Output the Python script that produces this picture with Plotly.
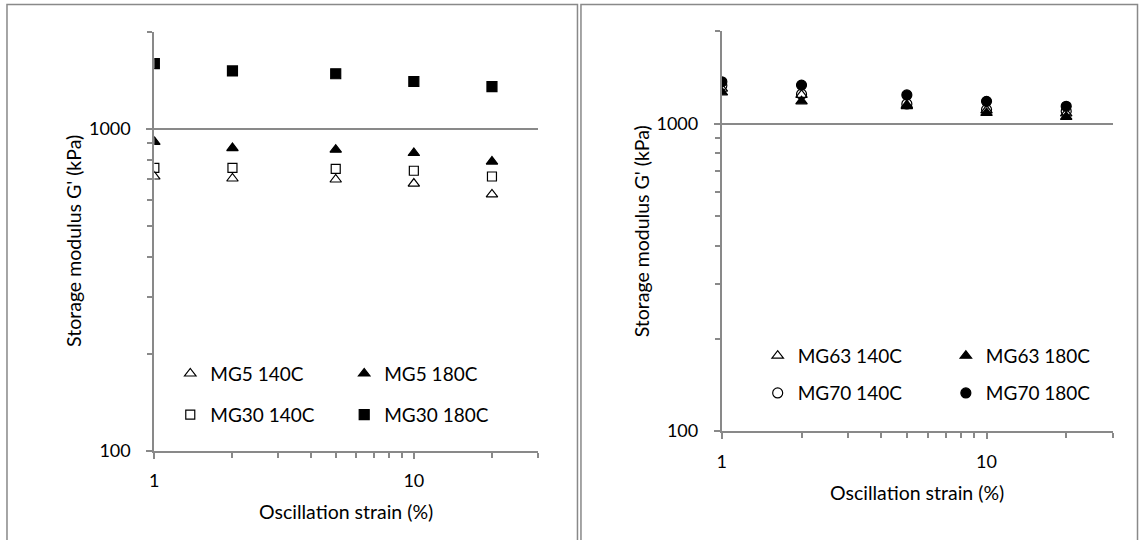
import plotly.graph_objects as go

# Oscillation strain (%) shared by every series
strain = [1, 2, 5, 10, 20]

# Left panel: storage modulus G' (kPa)
mg5_140c = [710, 700, 695, 675, 625]
mg5_180c = [910, 870, 860, 840, 790]
mg30_140c = [755, 755, 750, 740, 710]
mg30_180c = [1590, 1510, 1480, 1400, 1350]

# Right panel: storage modulus G' (kPa)
mg63_140c = [1300, 1240, 1150, 1105, 1080]
mg63_180c = [1265, 1182, 1141, 1084, 1053]
mg70_140c = [1332, 1247, 1159, 1111, 1098]
mg70_180c = [1369, 1335, 1240, 1182, 1139]

# Tick positions on the log axes
x_major = [1, 10]
x_major_text = ["1", "10"]
x_minor = [2, 3, 4, 5, 6, 7, 8, 9, 20, 30]
y_major = [100, 1000]
y_major_text = ["100", "1000"]
y_minor = [200, 300, 400, 500, 600, 700, 800, 900, 2000]

X_TITLE = "Oscillation strain (%)"
Y_TITLE = "Storage modulus G' (kPa)"

W, H = 1140, 540
FONT = "Lato"
GRAY = "#898989"
BLACK = "#000000"


def px_x(p):
    return p / W


def px_y(p):
    return 1 - p / H


fig = go.Figure()

left_series = [
    ("MG5 140C", mg5_140c, "triangle-up-open", 10),
    ("MG5 180C", mg5_180c, "triangle-up", 10),
    ("MG30 140C", mg30_140c, "square-open", 9),
    ("MG30 180C", mg30_180c, "square", 10),
]
right_series = [
    ("MG63 140C", mg63_140c, "triangle-up-open", 10),
    ("MG63 180C", mg63_180c, "triangle-up", 10),
    ("MG70 140C", mg70_140c, "circle-open", 10),
    ("MG70 180C", mg70_180c, "circle", 10),
]

legend_names = []
for i, (name, vals, sym, size) in enumerate(left_series + right_series):
    lg = f"legend{i + 2}"
    legend_names.append(lg)
    side = "" if i < 4 else "2"
    fig.add_trace(go.Scatter(
        x=strain, y=vals, mode="markers", name=name, legend=lg,
        showlegend=True,
        marker=dict(symbol=sym, size=size, color=BLACK,
                    line=dict(color=BLACK, width=1.2)),
        xaxis="x" + side, yaxis="y" + side,
    ))


def x_axis(domain, anchor):
    return dict(
        type="log", range=[0, 1.4771], domain=domain, anchor=anchor,
        showline=True, linecolor=GRAY, linewidth=2,
        showgrid=False, zeroline=False,
        tickvals=x_major, ticktext=x_major_text,
        ticks="outside", ticklen=6, tickwidth=1.5, tickcolor=GRAY,
        ticklabelstandoff=7,
        tickfont=dict(family=FONT, size=18, color=BLACK),
        minor=dict(tickvals=x_minor, ticks="outside", ticklen=5,
                   tickwidth=1.5, tickcolor=GRAY, showgrid=False),
    )


def y_axis(domain, anchor):
    return dict(
        type="log", range=[2, 3.30103], domain=domain, anchor=anchor,
        showline=True, linecolor=GRAY, linewidth=2,
        showgrid=True, gridcolor=GRAY, gridwidth=2, zeroline=False,
        tickvals=y_major, ticktext=y_major_text,
        ticks="outside", ticklen=6, tickwidth=1.5, tickcolor=GRAY,
        ticklabelstandoff=12,
        tickfont=dict(family=FONT, size=18, color=BLACK),
        minor=dict(tickvals=y_minor, ticks="outside", ticklen=5,
                   tickwidth=1.5, tickcolor=GRAY, showgrid=False),
    )


# Plot-area geometry in pixels
L_X0, L_X1, L_Y0, L_Y1 = 150, 535, 32.2, 459.3
R_X0, R_X1, R_Y0, R_Y1 = 720, 1112.7, 31.7, 439.3

layout = dict(
    width=W, height=H,
    margin=dict(l=0, r=0, t=0, b=0),
    paper_bgcolor="white", plot_bgcolor="white",
    showlegend=True,
    font=dict(family=FONT, size=18, color=BLACK),
    xaxis=x_axis([px_x(L_X0), px_x(L_X1)], "y"),
    yaxis=y_axis([px_y(L_Y1), px_y(L_Y0)], "x"),
    xaxis2=x_axis([px_x(R_X0), px_x(R_X1)], "y2"),
    yaxis2=y_axis([px_y(R_Y1), px_y(R_Y0)], "x2"),
)

# Single-entry legends laid out as a 2x2 block inside each panel
legend_spots = [
    (207, 380.7), (381.7, 380.7), (207, 422.7), (381.7, 422.7),
    (797, 362.5), (986, 362.5), (797, 400.5), (986, 400.5),
]
for lg, (tx, ty) in zip(legend_names, legend_spots):
    layout[lg] = dict(
        x=px_x(tx - 41), y=px_y(ty), xanchor="left", yanchor="middle",
        bgcolor="rgba(0,0,0,0)", borderwidth=0,
        font=dict(family=FONT, size=19, color=BLACK),
        tracegroupgap=0,
    )

fig.update_layout(**layout)

# Axis titles
for cx, cy, txt, ang in [
    ((L_X0 + L_X1) / 2, 521, X_TITLE, 0),
    ((R_X0 + R_X1) / 2, 502, X_TITLE, 0),
    (69, (L_Y0 + L_Y1) / 2, Y_TITLE, -90),
    (639, (R_Y0 + R_Y1) / 2, Y_TITLE, -90),
]:
    fig.add_annotation(
        x=px_x(cx), y=px_y(cy), xref="paper", yref="paper",
        text=txt, textangle=ang, showarrow=False,
        xanchor="center", yanchor="middle",
        font=dict(family=FONT, size=19.5, color=BLACK),
    )

# Panel frames
for x0, x1 in [(2, 575), (578.5, 1137.5)]:
    fig.add_shape(
        type="rect", xref="paper", yref="paper",
        x0=px_x(x0), x1=px_x(x1), y0=-0.1, y1=px_y(4.5),
        line=dict(color=GRAY, width=1.5), fillcolor="rgba(0,0,0,0)",
        layer="below",
    )

fig.write_html("out.html")
